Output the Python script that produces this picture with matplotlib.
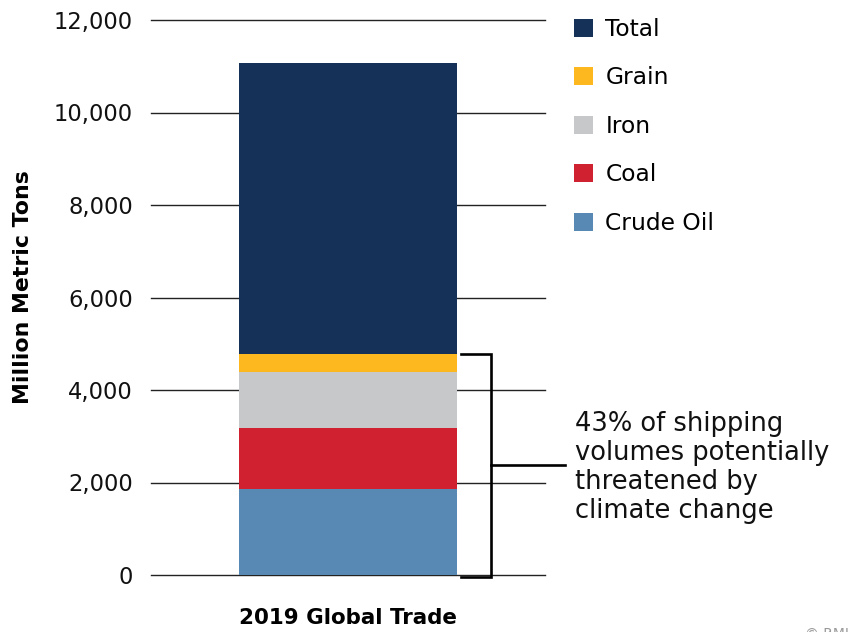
import matplotlib
matplotlib.use("Agg")
import matplotlib.pyplot as plt
from matplotlib.patches import Patch

plt.rcParams['font.family'] = ['DejaVu Sans']

# Million metric tons shipped, 2019
category = "2019 Global Trade"
segments = ["Crude Oil", "Coal", "Iron", "Grain", "Total"]
values = [1860, 1310, 1220, 380, 6300]
colors = ["#5889B4", "#CF212F", "#C7C8CA", "#FDB71F", "#153158"]
legend_order = ["Total", "Grain", "Iron", "Coal", "Crude Oil"]
y_ticks = [0, 2000, 4000, 6000, 8000, 10000, 12000]
threatened = ["Crude Oil", "Coal", "Iron", "Grain"]
note = "43% of shipping\nvolumes potentially\nthreatened by\nclimate change"

W, H = 854, 632
fig = plt.figure(figsize=(W / 100, H / 100), dpi=100)
ax = fig.add_axes([151 / W, 1 - 575 / H, (545 - 151) / W, (575 - 20) / H])

bar_w = 0.551
bottom = 0
for name, v, c in zip(segments, values, colors):
    ax.bar(0, v, width=bar_w, bottom=bottom, color=c, zorder=2, linewidth=0)
    bottom += v

ax.set_xlim(-0.5, 0.5)
ax.set_ylim(0, 12000)
ax.set_yticks(y_ticks)
ax.set_yticklabels([f"{t:,}" for t in y_ticks], fontsize=16.3, color="#111111")
ax.set_xticks([0])
ax.set_xticklabels([category], fontsize=15.4, fontweight="bold")
ax.tick_params(axis="y", length=0, pad=13)
ax.tick_params(axis="x", length=0, pad=24)
for s in ax.spines.values():
    s.set_visible(False)
ax.yaxis.grid(True, color="#222222", linewidth=1.0, zorder=1)
ax.set_axisbelow(True)
for gl in ax.get_ygridlines():
    gl.set_clip_on(False)
ax.set_ylabel("Million Metric Tons", fontsize=15.8, fontweight="bold")
ax.yaxis.set_label_coords(-0.2995, 0.518)

# bracket around the climate-exposed commodities
top = sum(v for n, v in zip(segments, values) if n in threatened)
bx0, bx1, bx2 = 0.286, 0.363, 0.551
ax.plot([bx0, bx1, bx1, bx0], [top, top, -40, -40], color="black", lw=1.9,
        clip_on=False, zorder=3, solid_joinstyle="miter")
ax.plot([bx1, bx2], [top / 2, top / 2], color="black", lw=1.9, clip_on=False, zorder=3)
ax.text(0.575, top / 2 - 50, note, fontsize=18.5, va="center", ha="left",
        linespacing=1.15, color="#111111")

handles = [Patch(facecolor=colors[segments.index(n)], label=n) for n in legend_order]
fig.legend(handles=handles, loc="upper left", bbox_to_anchor=(574 / W, 1 - 18 / H),
           frameon=False, fontsize=16.8, handlelength=0.8, handleheight=0.8,
           handletextpad=0.55, labelspacing=1.09, borderpad=0, borderaxespad=0)

fig.text(805 / W, 1 - 634 / H, "© RMI", fontsize=10, color="#999999", ha="left", va="center")

fig.savefig("out.png", dpi=100)
